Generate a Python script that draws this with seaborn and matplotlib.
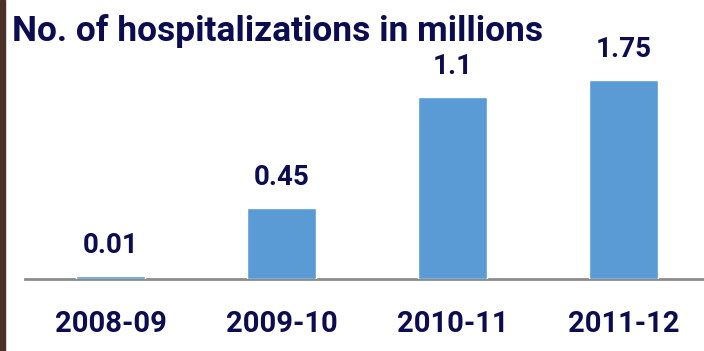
import matplotlib
matplotlib.use("Agg")
import matplotlib.pyplot as plt
import seaborn as sns
import pandas as pd
from matplotlib.patches import Rectangle

# Data
periods = ["2008-09", "2009-10", "2010-11", "2011-12"]
bar_heights = [0.018, 0.43, 1.10, 1.20]          # drawn bar heights as shown
value_labels = ["0.01", "0.45", "1.1", "1.75"]   # printed values
title_text = "No. of hospitalizations in millions"

NAVY = "#0c0c50"
BLUE = "#5b9bd5"
GRAY = "#8c8c8c"

sns.set_style("white")
plt.rcParams["font.family"] = ["Roboto", "DejaVu Sans"]

df = pd.DataFrame({"period": periods, "height": bar_heights})

fig = plt.figure(figsize=(7.04, 3.51), dpi=100)
ax = fig.add_axes([25 / 704, 72 / 351, 684 / 704, 279 / 351])
sns.barplot(data=df, x="period", y="height", color=BLUE, width=0.4,
            saturation=1, ax=ax, errorbar=None, zorder=3)

ax.set_xlim(-0.5, 3.5)
ax.set_ylim(0, 279 / 165.7)
ax.set_xlabel("")
ax.set_ylabel("")
ax.set_yticks([])
ax.set_xticks([-0.5, 0.5, 1.5, 2.5, 3.5])
ax.set_xticklabels([])
ax.set_xticks([0, 1, 2, 3], minor=True)
ax.set_xticklabels(periods, minor=True)
ax.tick_params(axis="x", which="major", direction="out", length=10,
               width=2, color=GRAY)
ax.tick_params(axis="x", which="minor", length=0, pad=22,
               labelsize=21, labelcolor=NAVY)
for lab in ax.get_xticklabels(minor=True):
    lab.set_fontweight("bold")

for side in ["left", "top", "right"]:
    ax.spines[side].set_visible(False)
ax.spines["bottom"].set_color(GRAY)
ax.spines["bottom"].set_linewidth(2)
ax.spines["bottom"].set_zorder(2)

ax.bar_label(ax.containers[0], labels=value_labels, padding=12,
             fontsize=20, fontweight="bold", color=NAVY)

fig.text(12 / 704, 1 - 41 / 351, title_text, fontsize=25.5, fontweight="bold",
         color=NAVY, family=["Roboto", "DejaVu Sans"],
         ha="left", va="baseline")

# dark photo edge at the far left
fig.patches.append(Rectangle((0, 0), 5 / 704, 1, transform=fig.transFigure,
                             color="#4a3028", zorder=0))

fig.savefig("out.png", dpi=100)
